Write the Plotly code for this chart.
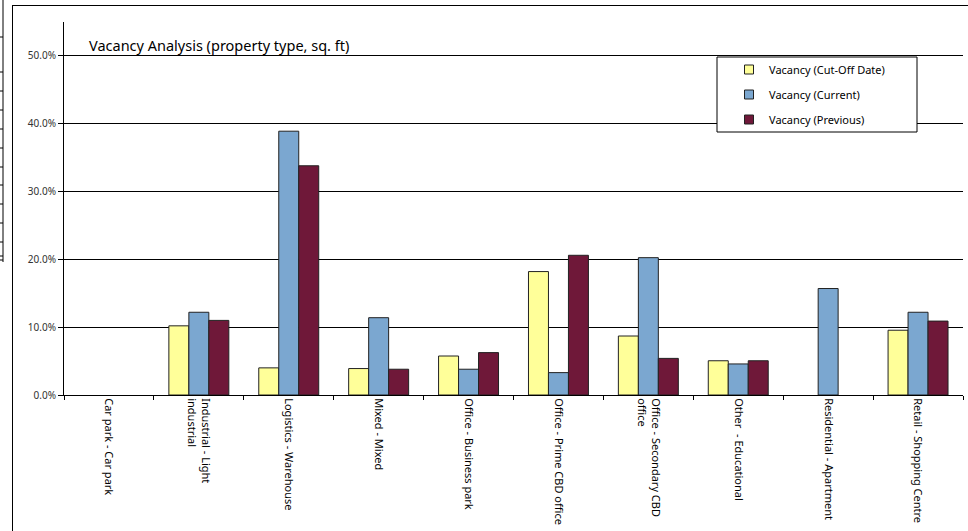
import plotly.graph_objects as go

categories = [
    "Car park - Car park",
    "Industrial - Light<br>industrial",
    "Logistics - Warehouse",
    "Mixed - Mixed",
    "Office - Business park",
    "Office - Prime CBD office",
    "Office - Secondary CBD<br>office",
    "Other  - Educational",
    "Residential - Apartment",
    "Retail - Shopping Centre",
]
vac_cutoff = [None, 0.102, 0.040, 0.039, 0.0575, 0.182, 0.087, 0.0505, None, 0.0955]
vac_current = [None, 0.122, 0.389, 0.114, 0.038, 0.033, 0.2025, 0.0458, 0.157, 0.122]
vac_previous = [None, 0.110, 0.338, 0.038, 0.0625, 0.206, 0.054, 0.0505, None, 0.109]
series_names = ["Vacancy (Cut-Off Date)", "Vacancy (Current)", "Vacancy (Previous)"]
series_colors = ["#FFFF99", "#7BA7D0", "#6F1839"]

W, H = 968, 531
L, R, T, B = 64, 5, 22, 136
PW, PH = W - L - R, H - T - B


def px(x):
    return (x - L) / PW


def py(y):
    return (H - B - y) / PH


FONT = "Noto Sans"

fig = go.Figure()
for name, vals, col in zip(series_names, [vac_cutoff, vac_current, vac_previous], series_colors):
    fig.add_trace(go.Bar(
        x=categories, y=vals, name=name, showlegend=False,
        marker=dict(color=col, line=dict(color="#222222", width=1)),
    ))
for i, (name, col) in enumerate(zip(series_names, series_colors)):
    fig.add_trace(go.Scatter(
        x=[None], y=[None], mode="markers", name=name, legendgroup=str(i),
        marker=dict(symbol="square", size=9, color=col, line=dict(color="#222222", width=1)),
    ))

shapes = []
# legend box
shapes.append(dict(type="rect", xref="paper", yref="paper",
                   x0=px(717), x1=px(917), y0=py(132), y1=py(57),
                   line=dict(color="black", width=1), fillcolor="white", layer="above"))
# outer frame lines
shapes.append(dict(type="line", xref="paper", yref="paper",
                   x0=px(12.5), x1=px(12.5), y0=py(5), y1=py(531), line=dict(color="black", width=1)))
shapes.append(dict(type="line", xref="paper", yref="paper",
                   x0=px(12.5), x1=px(968), y0=py(5.5), y1=py(5.5), line=dict(color="black", width=1)))
# left-edge fragment of neighbouring object
shapes.append(dict(type="line", xref="paper", yref="paper",
                   x0=px(3), x1=px(3), y0=py(0), y1=py(262), line=dict(color="black", width=1)))
for yy in [37, 72, 91, 110, 129, 148, 167, 185, 204, 223, 242, 256, 260]:
    shapes.append(dict(type="line", xref="paper", yref="paper",
                       x0=px(0), x1=px(3), y0=py(yy), y1=py(yy), line=dict(color="black", width=1)))

fig.update_layout(
    width=W, height=H,
    margin=dict(l=L, r=R, t=T, b=B, pad=0),
    paper_bgcolor="white", plot_bgcolor="white",
    barmode="group", bargap=0.333, bargroupgap=0,
    font=dict(family=FONT, size=11, color="black"),
    shapes=shapes,
    annotations=[dict(text="Vacancy Analysis (property type, sq. ft)", xref="paper", yref="paper",
                      x=px(87), y=py(45), xanchor="left", yanchor="middle", showarrow=False,
                      font=dict(family=FONT, size=14.5, color="black"))],
    legend=dict(x=px(729), y=py(55), xanchor="left", yanchor="top",
                bgcolor="rgba(0,0,0,0)", borderwidth=0,
                traceorder="grouped", tracegroupgap=6,
                font=dict(family=FONT, size=11, color="black")),
    xaxis=dict(
        type="category", showline=True, linecolor="black", linewidth=1,
        ticks="outside", tickson="boundaries", ticklen=4, tickcolor="black",
        tickangle=90, tickfont=dict(family=FONT, size=11, color="black"),
        showgrid=False, zeroline=False,
    ),
    yaxis=dict(
        range=[0, 0.55], dtick=0.1, tickformat=".1%",
        showline=True, linecolor="black", linewidth=1,
        ticks="outside", ticklen=5, tickcolor="black",
        tickfont=dict(family=FONT, size=10, color="#333333"),
        showgrid=True, gridcolor="black", gridwidth=1, zeroline=False,
    ),
)

fig.write_html("out.html")
